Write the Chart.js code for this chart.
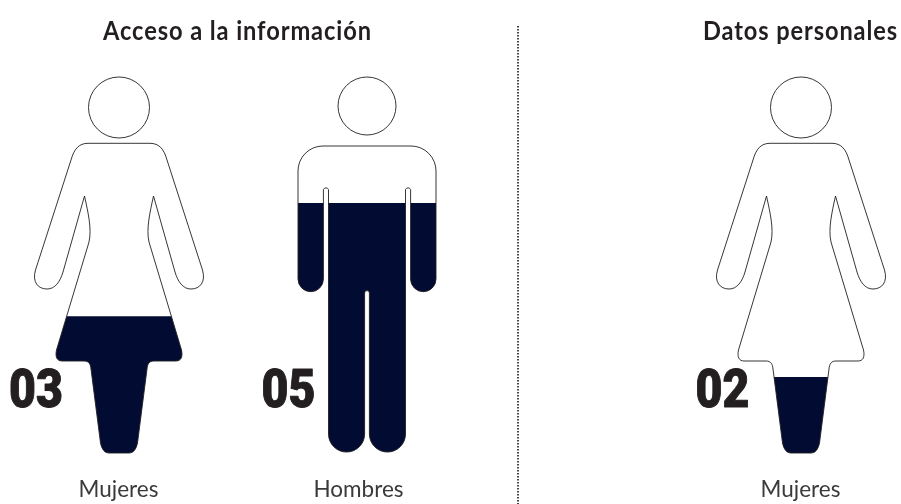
<!DOCTYPE html>
<html><head><meta charset="utf-8">
<style>html,body{margin:0;padding:0;background:#fff}canvas{display:block}</style>
<script src="https://cdn.jsdelivr.net/npm/chart.js@4"></script>
</head><body><canvas id="c" width="901" height="504"></canvas>
<script>
const categories = ["", "Mujeres", "", "", "", "Hombres", "", "", "", "", "", "", "Mujeres", ""];
const fillPercent = [null, 36.3, null, null, null, 66.4, null, null, null, null, null, null, 20.1, null];
const counts = [null, "03", null, null, null, "05", null, null, null, null, null, null, "02", null];
const figureKinds = [null, "woman", null, null, null, "man", null, null, null, null, null, null, "woman", null];
const groupTitles = ["Acceso a la información", "Datos personales"];
const labelNudge = [0, -0.5, 0, 0, 0, -8.5, 0, 0, 0, 0, 0, 0, -0.5, 0];

const INK = "#231f20", NAVY = "#020c33";
const BODY = {
  woman: "M0 66.3H31C40 66.3 45 72 48 83L83.5 193C87 205 81 212 72 212C64 212 59 205 56 195L34.5 119C31 135 27 152 30 165L62.5 273C64 280 62 284 57 284H35C30 284 28.5 287 28 292L18.5 366C17 373 14 376 10 376H-10C-14 376 -17 373 -18.5 366L-28 292C-28.5 287 -30 284 -35 284H-57C-62 284 -64 280 -62.5 273L-30 165C-27 152 -31 135 -34.5 119L-56 195C-59 205 -64 212 -72 212C-81 212 -87 205 -83.5 193L-48 83C-45 72 -40 66.3 -31 66.3Z",
  man: "M0 69H44A25 25 0 0 1 69 94V202A12.7 12.7 0 0 1 43.6 202V112.5A2.8 2.8 0 0 0 38.5 112.5V357A18 18 0 0 1 2.4 357V216A2.4 2.4 0 0 0 -2.4 216V357A18 18 0 0 1 -38.5 357V112.5A2.8 2.8 0 0 0 -43.6 112.5V202A12.7 12.7 0 0 1 -69 202V94A25 25 0 0 1 -44 69Z"
};
const HEAD = {
  woman: "M30.5 30.5A30.5 30.5 0 1 1 -30.5 30.5A30.5 30.5 0 1 1 30.5 30.5Z",
  man: "M29 29A29 29 0 1 1 -29 29A29 29 0 1 1 29 29Z"
};
const FIG_H = 376;

function figurePath(chart, i, shapes) {
  const x = chart.scales.x.getPixelForValue(i);
  const yTop = chart.scales.y.getPixelForValue(100);
  const yBot = chart.scales.y.getPixelForValue(0);
  const p = new Path2D();
  const m = new DOMMatrix([1, 0, 0, (yBot - yTop) / FIG_H, x, yTop]);
  shapes.forEach(s => p.addPath(new Path2D(s[figureKinds[i]]), m));
  return p;
}

function narrowText(ctx, text, cx, y, width) {
  const w = ctx.measureText(text).width;
  ctx.save();
  ctx.translate(cx, y);
  ctx.scale(width / w, 1);
  ctx.fillText(text, 0, 0);
  ctx.restore();
}

const pictogram = {
  id: "pictogram",
  beforeDraw(chart) {
    chart.ctx.letterSpacing = "0px";
    chart.scales.x.getLabelItems().forEach((item, i) => {
      item.options.translation[0] += labelNudge[i] || 0;
    });
  },
  beforeDatasetDraw(chart) {
    const ctx = chart.ctx, all = new Path2D();
    figureKinds.forEach((k, i) => { if (k) all.addPath(figurePath(chart, i, [BODY])); });
    ctx.save();
    ctx.clip(all);
  },
  afterDatasetDraw(chart) { chart.ctx.restore(); },
  afterDatasetsDraw(chart) {
    const ctx = chart.ctx, sx = chart.scales.x, sy = chart.scales.y;
    ctx.save();
    ctx.strokeStyle = INK; ctx.lineWidth = 0.9;
    figureKinds.forEach((k, i) => { if (k) ctx.stroke(figurePath(chart, i, [BODY, HEAD])); });

    ctx.fillStyle = INK; ctx.textAlign = "center"; ctx.textBaseline = "alphabetic";
    ctx.letterSpacing = "1px";
    ctx.font = "bold 26px Lato, 'Open Sans', sans-serif";
    narrowText(ctx, groupTitles[0], 237.5, 40, 269);
    narrowText(ctx, groupTitles[1], 800.5, 40, 195);

    ctx.letterSpacing = "0px";
    ctx.font = "900 54px Roboto, sans-serif";
    ctx.strokeStyle = INK; ctx.lineWidth = 1; ctx.lineJoin = "round";
    counts.forEach((c, i) => {
      if (!c) return;
      ctx.save();
      ctx.translate(sx.getPixelForValue(i) - (i === 1 ? 83 : 78.5), sy.getPixelForValue(12) - 0.5);
      ctx.scale(0.86, 1);
      ctx.fillText(c, 0, 0);
      ctx.strokeText(c, 0, 0);
      ctx.restore();
    });

    ctx.strokeStyle = "#444"; ctx.lineWidth = 2; ctx.setLineDash([1.5, 1.5]);
    ctx.beginPath(); ctx.moveTo(518, 26); ctx.lineTo(518, 504); ctx.stroke();
    ctx.restore();
  }
};

new Chart(document.getElementById("c"), {
  type: "bar",
  data: { labels: categories, datasets: [{
    data: fillPercent, backgroundColor: NAVY, borderWidth: 0,
    barThickness: 200, clip: false
  }]},
  plugins: [pictogram],
  options: {
    responsive: false, animation: false, events: [],
    layout: { padding: { left: 26, right: 7, top: 77, bottom: 0 } },
    plugins: { legend: { display: false }, tooltip: { enabled: false }, title: { display: false } },
    scales: {
      x: {
        grid: { display: false, drawTicks: false }, border: { display: false },
        ticks: { autoSkip: false, maxRotation: 0, minRotation: 0, padding: 23, color: "#3a3a3a",
                 font: { family: "Lato, 'Open Sans', sans-serif", size: 22.5 } },
        afterFit(s) { s.height = 51; }
      },
      y: { display: false, min: 0, max: 100 }
    }
  }
});
</script></body></html>
